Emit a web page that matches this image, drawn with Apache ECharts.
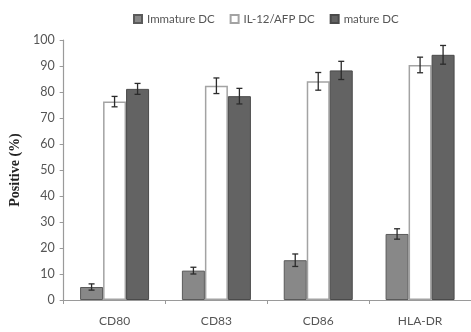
<!DOCTYPE html>
<html>
<head>
<meta charset="utf-8">
<script src="https://cdn.jsdelivr.net/npm/echarts@6/dist/echarts.min.js"></script>
<style>
  html, body { margin: 0; padding: 0; background: #fff; }
  #chart { width: 471px; height: 332px; }
</style>
</head>
<body>
<div id="chart"></div>
<script>
  var markers = ['CD80', 'CD83', 'CD86', 'HLA-DR'];
  var seriesNames = ['Immature DC', 'IL-12/AFP DC', 'mature DC'];
  var immature = [5, 11.3, 15.3, 25.4];
  var immatureErr = [1.2, 1.3, 2.4, 2];
  var il12 = [76.3, 82.4, 84.1, 90.4];
  var il12Err = [2, 3, 3.4, 3];
  var mature = [81.2, 78.4, 88.3, 94.3];
  var matureErr = [2.1, 3, 3.5, 3.6];
  var yTicks = [0, 10, 20, 30, 40, 50, 60, 70, 80, 90, 100];

  var BAR_W = 23;
  var font = 'Lato, "Open Sans", sans-serif';

  // error bars drawn on top of each bar, shifted to the bar's slot in the group
  function errorSeries(name, values, errs, slot) {
    return {
      name: name,
      type: 'custom',
      z: 10,
      silent: true,
      data: values.map(function (v, i) { return [i, v - errs[i], v + errs[i]]; }),
      renderItem: function (params, api) {
        var lo = api.coord([api.value(0), api.value(1)]);
        var hi = api.coord([api.value(0), api.value(2)]);
        var x = lo[0] + slot * BAR_W;
        var cap = 3;
        var style = { stroke: '#2b2b2b', lineWidth: 1.3 };
        return {
          type: 'group',
          children: [
            { type: 'line', shape: { x1: x, y1: lo[1], x2: x, y2: hi[1] }, style: style },
            { type: 'line', shape: { x1: x - cap, y1: lo[1], x2: x + cap, y2: lo[1] }, style: style },
            { type: 'line', shape: { x1: x - cap, y1: hi[1], x2: x + cap, y2: hi[1] }, style: style }
          ]
        };
      }
    };
  }

  var chart = echarts.init(document.getElementById('chart'));
  chart.setOption({
    animation: false,
    backgroundColor: '#fff',
    legend: {
      data: seriesNames,
      top: 8,
      left: 128,
      itemWidth: 8,
      itemHeight: 8,
      itemGap: 15,
      icon: 'rect',
      textStyle: { fontFamily: font, fontSize: 11.5, color: '#555' }
    },
    grid: { left: 62, right: -5, top: 40, bottom: 32 },
    xAxis: {
      type: 'category',
      data: markers,
      axisLine: { lineStyle: { color: '#9a9a9a', width: 1.2 } },
      axisTick: { show: true, length: 4, lineStyle: { color: '#9a9a9a' } },
      axisLabel: { fontFamily: font, fontSize: 12, color: '#555', margin: 15 }
    },
    yAxis: {
      type: 'value',
      min: 0,
      max: 100,
      interval: 10,
      name: 'Positive (%)',
      nameLocation: 'middle',
      nameGap: 41,
      nameTextStyle: { fontFamily: '"Liberation Serif", "DejaVu Serif", serif', fontWeight: 'bold', fontSize: 14, color: '#222' },
      axisLine: { show: true, lineStyle: { color: '#9a9a9a', width: 1.2 } },
      axisTick: { show: true, length: 4, lineStyle: { color: '#9a9a9a' } },
      splitLine: { show: false },
      axisLabel: {
        fontFamily: font, fontSize: 12.5, color: '#555', margin: 9,
        formatter: function (v) { return yTicks.indexOf(v) >= 0 ? String(v) : ''; }
      }
    },
    series: [
      {
        name: seriesNames[0], type: 'bar', data: immature, barWidth: BAR_W, barGap: '0%',
        itemStyle: { color: '#888888', borderColor: '#5a5a5a', borderWidth: 1 }
      },
      {
        name: seriesNames[1], type: 'bar', data: il12, barWidth: BAR_W, barGap: '0%',
        itemStyle: { color: '#ffffff', borderColor: '#a3a3a3', borderWidth: 1.5 }
      },
      {
        name: seriesNames[2], type: 'bar', data: mature, barWidth: BAR_W, barGap: '0%',
        itemStyle: { color: '#636363', borderColor: '#4a4a4a', borderWidth: 1 }
      },
      errorSeries('errImm', immature, immatureErr, -1),
      errorSeries('errIl12', il12, il12Err, 0),
      errorSeries('errMat', mature, matureErr, 1)
    ]
  });
</script>
</body>
</html>
